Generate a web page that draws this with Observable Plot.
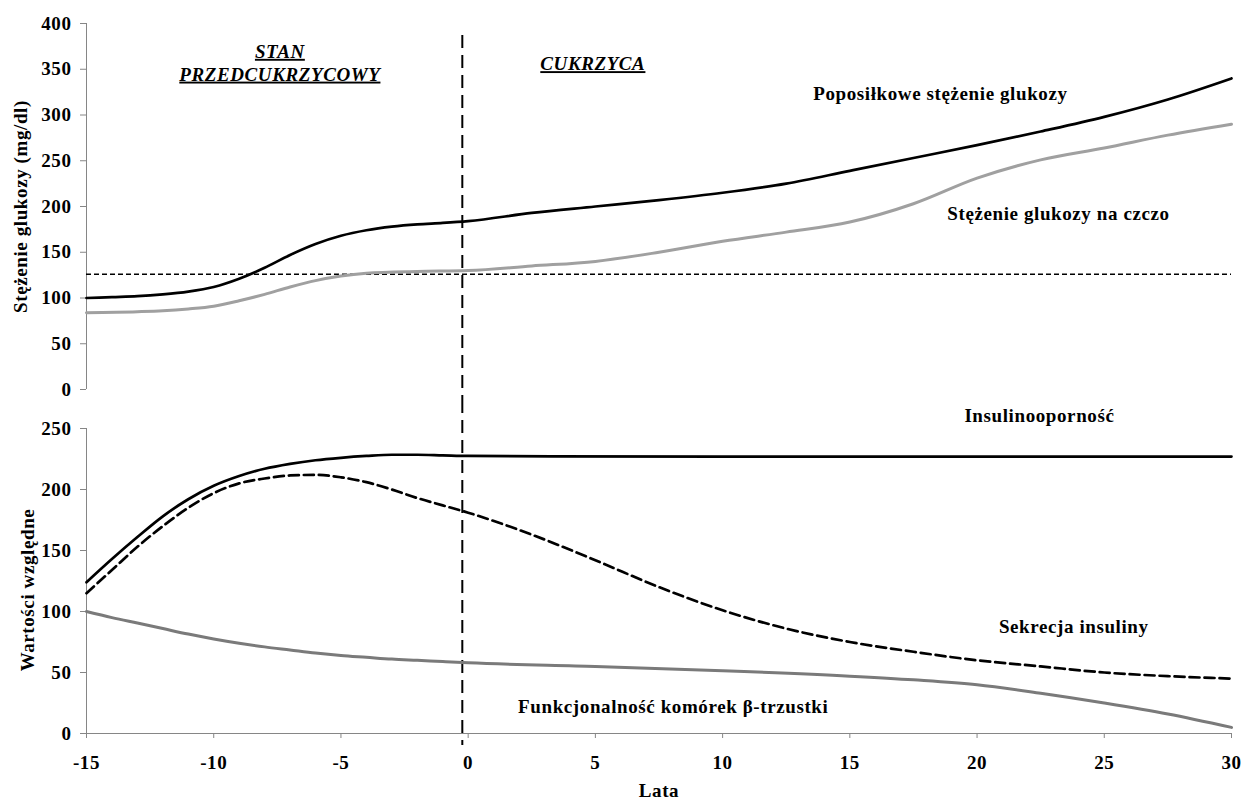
<!DOCTYPE html>
<html>
<head>
<meta charset="utf-8">
<script src="https://cdn.jsdelivr.net/npm/d3@7"></script>
<script src="https://cdn.jsdelivr.net/npm/@observablehq/plot@0.6"></script>
<style>
  html, body { margin: 0; padding: 0; background: #fff; }
  #chart { position: relative; width: 1243px; height: 802px; overflow: hidden; }
  #chart svg { position: absolute; left: 0; }
</style>
</head>
<body>
<div id="chart"></div>
<script>
// ---------- data ----------
// Top panel: glucose concentration (mg/dl)
const postX = [-15,-14,-13,-12,-11,-10,-9,-8,-7,-6,-5,-4,-3,-2,-1,0,2.5,5,7.5,10,12.5,15,17.5,20,22.5,25,27.5,30];
const postY = [100,101,102,104,107,112,121,133,147,159,168,174,178,180.5,182,184,193,200,207,215,225,239,253,267,282,298,317,340];

const fastX = [-15,-13,-12,-11,-10,-9,-8,-7,-6,-5,-4,-2,0,2.5,5,7.5,10,12.5,15,17.5,20,22.5,25,27.5,30];
const fastY = [84,85,86,88,91,97,104,112,119,124,127,129,130,135,140,150,162,172,183,203,231,251,264,278,290];

const thresholdGlucose = 126;
const diagnosisYear = -0.23;

// Bottom panel: relative values
const resX = [-15,-14,-13,-12,-11,-10,-9,-8,-7,-6,-5,-4,-3,-2,-1,0,10,20,30];
const resY = [124,143,161,178,192,203,211,217,221,224,226,227.5,228.5,228.5,228,227.5,227,227,227];

const secX = [-15,-14,-13,-12,-11,-10,-9,-8,-7,-6,-5,-4,-3,-2,-1,0,2.5,5,7.5,10,12.5,15,17.5,20,22.5,25,27.5,30];
const secY = [115,134,153,170,185,197,205,209,211.5,212,210,206,200,193,187,181,163,142,120,101,86,75,67,60,55,50,47,45];

const betaX = [-15,-14,-13,-12,-11,-10,-9,-8,-7,-6,-5,-4,-3,-2,-1,0,5,10,15,17.5,20,22.5,25,27.5,30];
const betaY = [100,95,90.5,86,81.5,77.5,74,71,68.5,66,64,62.5,61,60,59,58,55,51.5,47,44,40,33,25,16,5];

// Ticks
const xTicks = [-15,-10,-5,0,5,10,15,20,25,30];
const yTopTicks = [0,50,100,150,200,250,300,350,400];
const yBotTicks = [0,50,100,150,200,250];

// Labels
const topYLabel = "Stężenie glukozy (mg/dl)";
const botYLabel = "Wartości względne";
const xLabel = "Lata";
const phaseLabels = [
  {x: -7.4, y: 358, text: "STAN\nPRZEDCUKRZYCOWY"},
  {x: 4.9, y: 357, text: "CUKRZYCA"}
];
const topSeriesLabels = [
  {x: 18.56, y: 323.5, text: "Poposiłkowe stężenie glukozy"},
  {x: 23.2, y: 192, text: "Stężenie glukozy na czczo"}
];
const botSeriesLabels = [
  {x: 22.45, y: 260, text: "Insulinooporność"},
  {x: 23.8, y: 87, text: "Sekrecja insuliny"},
  {x: 8.06, y: 22, text: "Funkcjonalność komórek β-trzustki"}
];

// ---------- build ----------
const zip = (xs, ys) => xs.map((x, i) => ({x, y: ys[i]}));
const FONT = "'Liberation Serif', 'Times New Roman', serif";
const AXIS = "#868686";
const CURVE = "monotone-x";
const common = {
  width: 1243, marginLeft: 86, marginRight: 12,
  x: {domain: [-15, 30], axis: null},
  style: {fontFamily: FONT, fontWeight: "bold", fontSize: "19px", letterSpacing: "0.6px", overflow: "visible", background: "transparent", color: "black"}
};

const topPlot = Plot.plot({
  ...common,
  height: 400, marginTop: 23, marginBottom: 11,
  y: {domain: [0, 400], axis: null},
  marks: [
    Plot.ruleX([-15], {stroke: AXIS, strokeWidth: 1}),
    Plot.axisY({ticks: yTopTicks, tickSize: 6, tickPadding: 9, stroke: AXIS, label: null, fontSize: 19, tickFormat: d => String(d)}),
    Plot.ruleY([thresholdGlucose], {x1: -15, x2: 30, stroke: "black", strokeWidth: 1.5, strokeDasharray: "5,3"}),
    Plot.ruleX([diagnosisYear], {y1: 387, y2: -12, stroke: "black", strokeWidth: 2, strokeDasharray: "13,7"}),
    Plot.line(zip(fastX, fastY), {x: "x", y: "y", stroke: "#a0a0a0", strokeWidth: 3, curve: CURVE}),
    Plot.line(zip(postX, postY), {x: "x", y: "y", stroke: "black", strokeWidth: 2.7, curve: CURVE}),
    Plot.text(phaseLabels, {x: "x", y: "y", text: "text", fontSize: 19, fontWeight: "bold", fontStyle: "italic", lineHeight: 1.2, ariaDescription: "underlined"}),
    Plot.text(topSeriesLabels, {x: "x", y: "y", text: "text", fontSize: 19, fontWeight: "bold"}),
    Plot.text([topYLabel], {frameAnchor: "left", text: d => d, rotate: -90, dx: -66, textAnchor: "middle", fontSize: 19, fontWeight: "bold"})
  ]
});

const bottomPlot = Plot.plot({
  ...common,
  height: 402, marginTop: 28, marginBottom: 69,
  y: {domain: [0, 250], axis: null},
  marks: [
    Plot.ruleX([-15], {stroke: AXIS, strokeWidth: 1}),
    Plot.ruleY([0], {stroke: AXIS, strokeWidth: 1}),
    Plot.axisY({ticks: yBotTicks, tickSize: 6, tickPadding: 9, stroke: AXIS, label: null, fontSize: 19, tickFormat: d => String(d)}),
    Plot.axisX({ticks: xTicks, tickSize: 5, tickPadding: 17, stroke: AXIS, label: null, fontSize: 19, tickFormat: d => String(d)}),
    Plot.ruleX([diagnosisYear], {y1: 273, y2: -9.8, stroke: "black", strokeWidth: 2, strokeDasharray: "13,7"}),
    Plot.line(zip(betaX, betaY), {x: "x", y: "y", stroke: "#7a7a7a", strokeWidth: 3, curve: CURVE}),
    Plot.line(zip(secX, secY), {x: "x", y: "y", stroke: "black", strokeWidth: 2.7, strokeDasharray: "10,5", curve: CURVE}),
    Plot.line(zip(resX, resY), {x: "x", y: "y", stroke: "black", strokeWidth: 2.7, curve: CURVE}),
    Plot.text(botSeriesLabels, {x: "x", y: "y", text: "text", fontSize: 19, fontWeight: "bold"}),
    Plot.text([botYLabel], {frameAnchor: "left", text: d => d, rotate: -90, dx: -59, dy: 9, textAnchor: "middle", fontSize: 19, fontWeight: "bold"}),
    Plot.text([xLabel], {frameAnchor: "bottom", text: d => d, dy: 57, lineAnchor: "middle", fontSize: 19, fontWeight: "bold"})
  ]
});

topPlot.style.top = "0px";
bottomPlot.style.top = "400px";
const chart = document.getElementById("chart");
chart.appendChild(bottomPlot);
chart.appendChild(topPlot);
topPlot.querySelectorAll('g[aria-description="underlined"] text').forEach(t => t.style.textDecoration = "underline");
</script>
</body>
</html>
